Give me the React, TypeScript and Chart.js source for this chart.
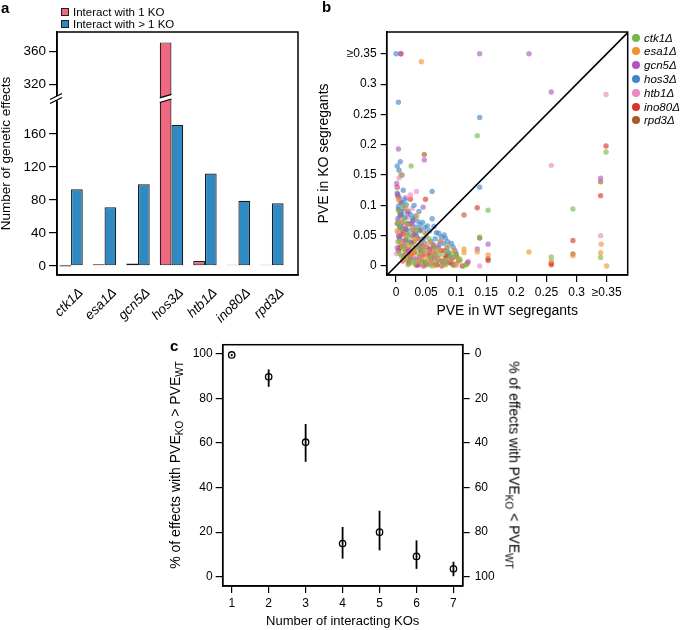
import React, { useEffect, useRef } from "react";
import { Chart, registerables } from "chart.js";
Chart.register(...registerables);

const FONT = "'Liberation Sans', Arial, Helvetica, sans-serif";

// ---------------- Panel a data ----------------
const koNames = ["ctk1Δ", "esa1Δ", "gcn5Δ", "hos3Δ", "htb1Δ", "ino80Δ", "rpd3Δ"];
const oneKO = [0, 2, 3, 371, 6, 1, 1];
const multiKO = [93, 71, 99, 171, 112, 79, 76];
const aTicks = [0, 40, 80, 120, 160, 320, 360];
const aLegend = ["Interact with 1 KO", "Interact with > 1 KO"];
const aColors = ["#f0677f", "#2f8ac4"];
const BREAK_ABOVE = 250; // values above this are shown shifted down
const BREAK_SHIFT = 100;
const BREAK_DISPLAY = 203; // display value where the axis break sits
const disp = (v: number) => (v > BREAK_ABOVE ? v - BREAK_SHIFT : v);

// ---------------- Panel b data ----------------
const bTickValues = [0, 0.05, 0.1, 0.15, 0.2, 0.25, 0.3, 0.35];
const bTickLabels = ["0", "0.05", "0.1", "0.15", "0.2", "0.25", "0.3", "≥0.35"];
const bNames = ["ctk1Δ", "esa1Δ", "gcn5Δ", "hos3Δ", "htb1Δ", "ino80Δ", "rpd3Δ"];
const bColors = ["#77b84a", "#f0922a", "#ac57bd", "#3f86c4", "#ee86bf", "#d9342b", "#a85a2b"];

const ctk1Pts = [
  [0.135, 0.215], [0.025, 0.165], [0.349, 0.188], [0.294, 0.094], [0.153, 0.092], [0.139, 0.048],
  [0.34, 0.014], [0.258, 0.015], [0.107, 0.01], [0.003, 0.04], [0.008, 0.062], [0.012, 0.028],
  [0.018, 0.045], [0.022, 0.012], [0.027, 0.033], [0.031, 0.004], [0.036, 0.021], [0.041, 0.009],
  [0.046, 0.026], [0.052, 0.002], [0.057, 0.014], [0.063, 0.031], [0.068, 0.006], [0.074, 0.019],
  [0.081, 0.003], [0.088, 0.012], [0.095, 0.001], [0.101, 0.016], [0.117, 0.002], [0.006, 0.021],
  [0.014, 0.078], [0.024, 0.052], [0.034, 0.058], [0.043, 0.041], [0.005, 0.09], [0.02, 0.002],
  [0.06, 0.0], [0.085, 0.024], [0.012, 0.1], [0.112, 0.0], [0.009, 0.016], [0.029, 0.008],
  [0.039, 0.03], [0.049, 0.006], [0.066, 0.018], [0.078, 0.008], [0.092, 0.02], [0.015, 0.035],
  [0.004, 0.07], [0.055, 0.045],
];
const esa1Pts = [
  [0.042, 0.337], [0.341, 0.036], [0.221, 0.023], [0.294, 0.017], [0.34, 0.022], [0.35, 0.0],
  [0.258, 0.008], [0.135, 0.023], [0.153, 0.018], [0.113, 0.028], [0.113, 0.022], [0.004, 0.11],
  [0.009, 0.073], [0.015, 0.052], [0.021, 0.035], [0.026, 0.018], [0.032, 0.044], [0.038, 0.007],
  [0.044, 0.029], [0.049, 0.013], [0.055, 0.038], [0.061, 0.02], [0.066, 0.001], [0.072, 0.027],
  [0.079, 0.009], [0.086, 0.032], [0.093, 0.015], [0.1, 0.004], [0.002, 0.058], [0.011, 0.031],
  [0.017, 0.094], [0.028, 0.062], [0.047, 0.055], [0.058, 0.008], [0.075, 0.041], [0.035, 0.083],
  [0.008, 0.15], [0.105, 0.012], [0.006, 0.04], [0.013, 0.012], [0.024, 0.005], [0.041, 0.018],
  [0.052, 0.024], [0.068, 0.012], [0.083, 0.002], [0.097, 0.026], [0.019, 0.068], [0.03, 0.025],
];
const gcn5Pts = [
  [0.008, 0.35], [0.139, 0.35], [0.221, 0.35], [0.004, 0.193], [0.047, 0.175], [0.258, 0.287],
  [0.34, 0.145], [0.153, 0.036], [0.135, 0.028], [0.045, 0.097], [0.001, 0.136], [0.12, 0.007],
  [0.003, 0.118], [0.007, 0.082], [0.011, 0.061], [0.016, 0.043], [0.021, 0.025], [0.027, 0.069],
  [0.033, 0.011], [0.039, 0.035], [0.044, 0.017], [0.05, 0.003], [0.056, 0.027], [0.064, 0.012],
  [0.071, 0.034], [0.083, 0.006], [0.009, 0.104], [0.002, 0.03], [0.019, 0.088], [0.03, 0.052],
  [0.005, 0.05], [0.013, 0.033], [0.024, 0.014], [0.036, 0.002], [0.047, 0.038], [0.06, 0.019],
  [0.076, 0.008], [0.092, 0.014],
];
const hos3Pts = [
  [0.0, 0.35], [0.004, 0.27], [0.139, 0.245], [0.007, 0.172], [0.002, 0.165], [0.139, 0.13],
  [0.06, 0.123], [0.01, 0.15], [0.005, 0.158], [0.002, 0.12], [0.006, 0.112], [0.01, 0.105],
  [0.004, 0.098], [0.013, 0.095], [0.017, 0.101], [0.008, 0.09], [0.02, 0.09], [0.024, 0.085],
  [0.015, 0.08], [0.028, 0.078], [0.032, 0.082], [0.036, 0.074], [0.011, 0.072], [0.021, 0.069],
  [0.04, 0.068], [0.044, 0.072], [0.048, 0.063], [0.026, 0.06], [0.052, 0.066], [0.056, 0.058],
  [0.063, 0.065], [0.067, 0.055], [0.071, 0.054], [0.075, 0.048], [0.08, 0.051], [0.082, 0.046],
  [0.086, 0.04], [0.092, 0.037], [0.095, 0.031], [0.098, 0.025], [0.006, 0.064], [0.003, 0.078],
  [0.018, 0.055], [0.034, 0.05], [0.045, 0.045], [0.058, 0.04], [0.07, 0.03], [0.012, 0.125],
  [0.03, 0.1], [0.038, 0.09], [0.06, 0.078], [0.079, 0.037], [0.088, 0.022], [0.006, 0.045],
  [0.023, 0.04], [0.1, 0.015], [0.042, 0.028], [0.015, 0.11], [0.009, 0.085], [0.025, 0.07],
  [0.033, 0.064], [0.05, 0.054], [0.065, 0.045], [0.073, 0.04], [0.085, 0.03], [0.016, 0.062],
  [0.04, 0.058],
];
const htb1Pts = [
  [0.349, 0.283], [0.258, 0.166], [0.34, 0.05], [0.139, 0.0], [0.034, 0.123], [0.024, 0.117],
  [0.005, 0.145], [0.002, 0.13], [0.006, 0.105], [0.01, 0.088], [0.004, 0.074], [0.014, 0.066],
  [0.019, 0.05], [0.003, 0.055], [0.008, 0.038], [0.023, 0.027], [0.029, 0.014], [0.035, 0.031],
  [0.041, 0.004], [0.047, 0.021], [0.053, 0.009], [0.06, 0.025], [0.069, 0.014], [0.078, 0.002],
  [0.016, 0.113], [0.027, 0.095], [0.001, 0.02], [0.012, 0.009], [0.05, 0.048], [0.09, 0.01],
  [0.007, 0.064], [0.013, 0.041], [0.02, 0.08], [0.031, 0.058], [0.038, 0.011], [0.056, 0.003],
  [0.064, 0.016], [0.082, 0.006], [0.1, 0.001],
];
const ino80Pts = [
  [0.008, 0.35], [0.349, 0.198], [0.34, 0.116], [0.294, 0.042], [0.258, 0.004], [0.258, 0.002],
  [0.135, 0.096], [0.139, 0.046], [0.153, 0.009], [0.049, 0.11], [0.024, 0.11], [0.002, 0.07],
  [0.005, 0.048], [0.009, 0.033], [0.013, 0.017], [0.017, 0.06], [0.021, 0.005], [0.025, 0.038],
  [0.03, 0.022], [0.034, 0.001], [0.039, 0.015], [0.043, 0.033], [0.048, 0.006], [0.054, 0.018],
  [0.059, 0.004], [0.065, 0.022], [0.07, 0.011], [0.076, 0.0], [0.083, 0.017], [0.089, 0.006],
  [0.096, 0.002], [0.104, 0.008], [0.007, 0.085], [0.028, 0.075], [0.012, 0.052], [0.062, 0.035],
  [0.11, 0.0], [0.02, 0.028], [0.037, 0.045], [0.004, 0.025], [0.011, 0.008], [0.016, 0.042],
  [0.023, 0.015], [0.032, 0.054], [0.041, 0.025], [0.046, 0.0], [0.057, 0.028], [0.068, 0.002],
  [0.08, 0.025], [0.093, 0.012], [0.118, 0.004],
];
const rpd3Pts = [
  [0.047, 0.184], [0.34, 0.139], [0.294, 0.02], [0.113, 0.084], [0.153, 0.012], [0.002, 0.13],
  [0.004, 0.093], [0.008, 0.065], [0.012, 0.041], [0.016, 0.024], [0.022, 0.008], [0.027, 0.049],
  [0.033, 0.03], [0.038, 0.002], [0.045, 0.019], [0.051, 0.031], [0.058, 0.011], [0.067, 0.003],
  [0.074, 0.025], [0.082, 0.013], [0.003, 0.115], [0.019, 0.07], [0.04, 0.06], [0.092, 0.004],
  [0.1, 0.02], [0.006, 0.03], [0.01, 0.055], [0.014, 0.012], [0.025, 0.02], [0.03, 0.04],
  [0.043, 0.008], [0.055, 0.022], [0.063, 0.03], [0.078, 0.006], [0.087, 0.018],
];
const bSeries = [ctk1Pts, esa1Pts, gcn5Pts, hos3Pts, htb1Pts, ino80Pts, rpd3Pts];
const diagonal = [[-0.02, -0.02], [0.4, 0.4]];

// ---------------- Panel c data ----------------
const cKOs = [1, 2, 3, 4, 5, 6, 7];
const cPct = [99.6, 89.8, 60.4, 14.9, 20.0, 9.1, 3.5];
const cLow = [99.0, 85.3, 51.6, 8.1, 11.8, 3.5, 0.2];
const cHigh = [100, 93.1, 68.6, 22.3, 29.6, 16.3, 6.7];
const cTicks = [0, 20, 40, 60, 80, 100];

const tickFont = { size: 12, family: FONT };

const boxPlugin = {
  id: "box",
  afterDraw(chart: any) {
    const { ctx, chartArea: a } = chart;
    ctx.save();
    ctx.strokeStyle = "#000";
    ctx.lineWidth = 1.5;
    ctx.strokeRect(a.left, a.top, a.right - a.left, a.bottom - a.top);
    ctx.restore();
  },
};

const breakPlugin = {
  id: "brk",
  afterDraw(chart: any) {
    const { ctx, chartArea: a } = chart;
    const yb = chart.scales.y.getPixelForValue(BREAK_DISPLAY);
    const bar = chart.getDatasetMeta(0).data[3];
    const { x, width } = bar.getProps(["x", "width"], true);
    const s = 3.5, g = 2.3;
    const xl = x - width / 2, xr = x + width / 2;
    ctx.save();
    ctx.fillStyle = "#fff";
    ctx.beginPath();
    ctx.moveTo(xl - 1.5, yb - g + s / 2);
    ctx.lineTo(xr + 1.5, yb - g - s / 2);
    ctx.lineTo(xr + 1.5, yb + g - s / 2);
    ctx.lineTo(xl - 1.5, yb + g + s / 2);
    ctx.closePath();
    ctx.fill();
    ctx.strokeStyle = "#000";
    ctx.lineWidth = 1.2;
    ctx.beginPath();
    ctx.moveTo(xl, yb - g + s / 2);
    ctx.lineTo(xr, yb - g - s / 2);
    ctx.moveTo(xl, yb + g + s / 2);
    ctx.lineTo(xr, yb + g - s / 2);
    ctx.stroke();
    // axis break
    const xa = a.left;
    ctx.fillStyle = "#fff";
    ctx.fillRect(xa - 2, yb - 2.5, 4, 4.5);
    ctx.lineWidth = 1.3;
    ctx.beginPath();
    ctx.moveTo(xa - 7, yb + 1);
    ctx.lineTo(xa + 5, yb - 5);
    ctx.moveTo(xa - 7, yb + 5);
    ctx.lineTo(xa + 5, yb - 1);
    ctx.stroke();
    ctx.restore();
  },
};

const errPlugin = {
  id: "err",
  beforeDatasetsDraw(chart: any) {
    const { ctx } = chart;
    const xs = chart.scales.x, ys = chart.scales.y;
    ctx.save();
    ctx.strokeStyle = "#000";
    ctx.lineWidth = 1.8;
    cKOs.forEach((k, i) => {
      const px = xs.getPixelForValue(k);
      ctx.beginPath();
      ctx.moveTo(px, ys.getPixelForValue(cLow[i]));
      ctx.lineTo(px, ys.getPixelForValue(cHigh[i]));
      ctx.stroke();
    });
    ctx.restore();
  },
};

function axisStyle(tickLen: number) {
  return {
    grid: { drawOnChartArea: false, tickLength: tickLen, color: "#000", lineWidth: 1.2 },
    border: { display: true, color: "#000", width: 1.5 },
  };
}

export default function App() {
  const aRef = useRef<HTMLCanvasElement>(null);
  const bRef = useRef<HTMLCanvasElement>(null);
  const cRef = useRef<HTMLCanvasElement>(null);

  useEffect(() => {
    Chart.defaults.font.family = FONT;
    Chart.defaults.color = "#000";
    const charts: Chart[] = [];

    // ---------- Panel a ----------
    charts.push(
      new Chart(aRef.current!, {
        type: "bar",
        data: {
          datasets: [
            {
              label: aLegend[0],
              data: oneKO.map((v, i) => ({ x: i, y: disp(v) })),
              backgroundColor: aColors[0],
              borderColor: "#1a1a1a",
              borderWidth: 1.2,
              borderSkipped: false,
              minBarLength: 1.2,
            },
            {
              label: aLegend[1],
              data: multiKO.map((v, i) => ({ x: i, y: disp(v) })),
              backgroundColor: aColors[1],
              borderColor: "#1a1a1a",
              borderWidth: 1.2,
              borderSkipped: false,
            },
          ],
        } as any,
        options: {
          animation: false,
          responsive: false,
          layout: { padding: { top: 32, right: 22, left: 0, bottom: 0 } },
          datasets: { bar: { categoryPercentage: 0.7, barPercentage: 1 } } as any,
          plugins: { legend: { display: false }, tooltip: { enabled: false } },
          scales: {
            x: {
              type: "linear",
              min: -0.42,
              max: 6.78,
              offset: false,
              afterBuildTicks: (s: any) => {
                s.ticks = koNames.map((_, i) => ({ value: i }));
              },
              afterFit: (s: any) => {
                s.height = 65;
              },
              ticks: {
                autoSkip: false,
                maxRotation: 45,
                minRotation: 45,
                padding: 2,
                labelOffset: 10,
                font: { size: 13.5, style: "italic", family: FONT },
                callback: (v: any) => koNames[v] ?? "",
              },
              grid: { display: false },
              border: { display: true, color: "#000", width: 1.5 },
            },
            y: {
              min: -11,
              max: 283.6,
              afterBuildTicks: (s: any) => {
                s.ticks = aTicks.map((v) => ({ value: disp(v) }));
              },
              afterFit: (s: any) => {
                s.width = 57;
              },
              ticks: {
                padding: 3,
                font: { size: 13.5, family: FONT },
                callback: (v: any) => {
                  const i = aTicks.findIndex((t) => disp(t) === v);
                  return i >= 0 ? String(aTicks[i]) : "";
                },
              },
              ...axisStyle(8),
              title: {
                display: true,
                text: "Number of genetic effects",
                font: { size: 13.5, family: FONT, lineHeight: 1 },
                padding: { top: 0, bottom: 0 },
              },
            },
          } as any,
        },
        plugins: [boxPlugin, breakPlugin],
      })
    );

    // ---------- Panel b ----------
    charts.push(
      new Chart(bRef.current!, {
        type: "scatter",
        data: {
          datasets: [
            {
              type: "line",
              data: diagonal.map(([x, y]) => ({ x, y })),
              borderColor: "#000",
              borderWidth: 1.6,
              pointRadius: 0,
              fill: false,
            },
            ...bSeries.map((pts, i) => ({
              label: bNames[i],
              data: pts.map(([x, y]) => ({ x, y })),
              backgroundColor: bColors[i] + "a0",
              borderWidth: 0,
              pointRadius: 2.7,
            })),
          ],
        } as any,
        options: {
          animation: false,
          responsive: false,
          layout: { padding: { top: 32, right: 52.3, left: 0, bottom: 0 } },
          plugins: { legend: { display: false }, tooltip: { enabled: false } },
          scales: {
            x: {
              type: "linear",
              min: -0.0155,
              max: 0.385,
              afterBuildTicks: (s: any) => {
                s.ticks = bTickValues.map((v) => ({ value: v }));
              },
              afterFit: (s: any) => {
                s.height = 65;
              },
              ticks: {
                padding: 3,
                font: tickFont,
                maxRotation: 0,
                autoSkip: false,
                callback: (v: any) => {
                  const i = bTickValues.findIndex((t) => Math.abs(t - v) < 1e-9);
                  return i >= 0 ? bTickLabels[i] : "";
                },
              },
              ...axisStyle(7),
              title: {
                display: true,
                text: "PVE in WT segregants",
                font: { size: 14, family: FONT, lineHeight: 1 },
                padding: { top: 0, bottom: 22 },
              },
            },
            y: {
              type: "linear",
              min: -0.0149,
              max: 0.386,
              afterBuildTicks: (s: any) => {
                s.ticks = bTickValues.map((v) => ({ value: v }));
              },
              afterFit: (s: any) => {
                s.width = 76.7;
              },
              ticks: {
                padding: 4,
                font: tickFont,
                autoSkip: false,
                callback: (v: any) => {
                  const i = bTickValues.findIndex((t) => Math.abs(t - v) < 1e-9);
                  return i >= 0 ? bTickLabels[i] : "";
                },
              },
              ...axisStyle(6),
              title: {
                display: true,
                text: "PVE in KO segregants",
                font: { size: 14, family: FONT, lineHeight: 1 },
                padding: { top: 7, bottom: 0 },
              },
            },
          } as any,
        },
        plugins: [boxPlugin],
      })
    );

    // ---------- Panel c ----------
    charts.push(
      new Chart(cRef.current!, {
        type: "scatter",
        data: {
          datasets: [
            {
              data: cKOs.map((k, i) => ({ x: k, y: cPct[i] })),
              backgroundColor: "rgba(0,0,0,0)",
              borderColor: "#000",
              borderWidth: 1.3,
              pointRadius: 3.2,
            },
          ],
        } as any,
        options: {
          animation: false,
          responsive: false,
          layout: { padding: { top: 14.7, right: 0, left: 0, bottom: 0 } },
          plugins: { legend: { display: false }, tooltip: { enabled: false } },
          scales: {
            x: {
              type: "linear",
              min: 0.756,
              max: 7.25,
              afterBuildTicks: (s: any) => {
                s.ticks = cKOs.map((v) => ({ value: v }));
              },
              afterFit: (s: any) => {
                s.height = 44;
              },
              ticks: { padding: 3, font: tickFont, autoSkip: false, maxRotation: 0 },
              ...axisStyle(7),
              title: {
                display: true,
                text: "Number of interacting KOs",
                font: { size: 13, family: FONT, lineHeight: 1 },
                padding: { top: 0, bottom: 2 },
              },
            },
            y: {
              type: "linear",
              position: "left",
              min: -4.2,
              max: 104.2,
              afterBuildTicks: (s: any) => {
                s.ticks = cTicks.map((v) => ({ value: v }));
              },
              afterFit: (s: any) => {
                s.width = 72.7;
              },
              ticks: { padding: 3, font: tickFont },
              ...axisStyle(7),
            },
            y2: {
              type: "linear",
              position: "right",
              reverse: true,
              min: -4.2,
              max: 104.2,
              afterBuildTicks: (s: any) => {
                s.ticks = cTicks.map((v) => ({ value: v }));
              },
              afterFit: (s: any) => {
                s.width = 67.3;
              },
              ticks: { padding: 5, font: tickFont },
              ...axisStyle(7),
            },
          } as any,
        },
        plugins: [boxPlugin, errPlugin],
      })
    );

    return () => charts.forEach((c) => c.destroy());
  }, []);

  const abs = (l: number, t: number, extra: any = {}) => ({ position: "absolute" as const, left: l, top: t, ...extra });

  return (
    <div style={{ position: "absolute", left: 0, top: 0, width: 680, height: 630, background: "#fff", fontFamily: FONT, color: "#000", overflow: "hidden" }}>
      <canvas ref={aRef} width={320} height={340} style={abs(0, 0, { width: 320, height: 340 })} />
      <canvas ref={bRef} width={370} height={340} style={abs(310, 0, { width: 370, height: 340 })} />
      <canvas ref={cRef} width={380} height={300} style={abs(150, 330, { width: 380, height: 300 })} />

      {/* panel letters */}
      <div style={abs(1, 0, { fontWeight: "bold", fontSize: 15, lineHeight: "15px" })}>a</div>
      <div style={abs(322, -1, { fontWeight: "bold", fontSize: 15, lineHeight: "15px" })}>b</div>
      <div style={abs(170, 338, { fontWeight: "bold", fontSize: 15, lineHeight: "15px" })}>c</div>

      {/* panel a legend */}
      <div style={abs(61, 5.4, { fontSize: 11.5 })}>
        {aLegend.map((t, i) => (
          <div key={t} style={{ display: "flex", alignItems: "center", height: 12.6, whiteSpace: "nowrap" }}>
            <span style={{ display: "inline-block", width: 6, height: 6, border: "1px solid #222", background: aColors[i] }} />
            <span style={{ marginLeft: 4 }}>{t}</span>
          </div>
        ))}
      </div>

      {/* panel b legend */}
      <div style={abs(632, 30.8, { fontSize: 11.5 })}>
        {bNames.map((t, i) => (
          <div key={t} style={{ display: "flex", alignItems: "center", height: 13.8, whiteSpace: "nowrap" }}>
            <span style={{ display: "inline-block", width: 8, height: 8, borderRadius: "50%", background: bColors[i] }} />
            <span style={{ marginLeft: 4, fontStyle: "italic" }}>{t}</span>
          </div>
        ))}
      </div>

      {/* panel c side titles */}
      <div style={abs(175.7, 465, { fontSize: 14, whiteSpace: "nowrap", transform: "translate(-50%,-50%) rotate(-90deg)" })}>
        % of effects with PVE<sub style={{ fontSize: 10 }}>KO</sub> &gt; PVE<sub style={{ fontSize: 10 }}>WT</sub>
      </div>
      <div style={abs(513, 465, { fontSize: 14, whiteSpace: "nowrap", transform: "translate(-50%,-50%) rotate(90deg)" })}>
        % of effects with PVE<sub style={{ fontSize: 10 }}>KO</sub> &lt; PVE<sub style={{ fontSize: 10 }}>WT</sub>
      </div>
    </div>
  );
}
